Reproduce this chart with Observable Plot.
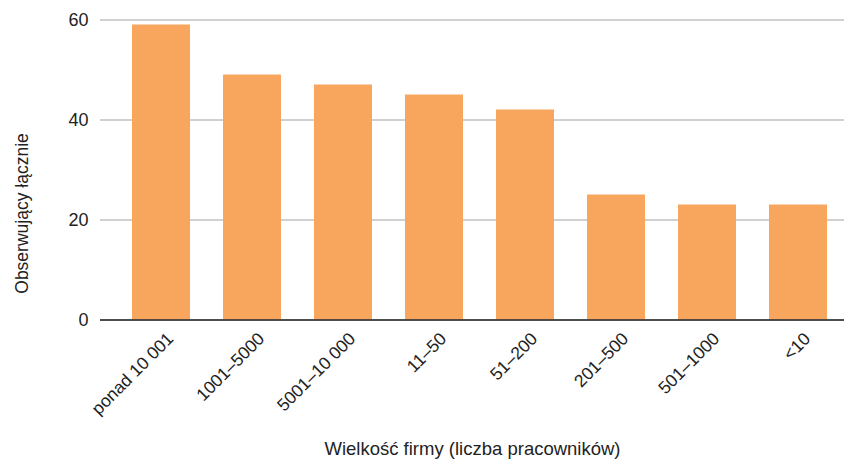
<!DOCTYPE html>
<html><head><meta charset="utf-8">
<script src="https://cdn.jsdelivr.net/npm/d3@7"></script>
<script src="https://cdn.jsdelivr.net/npm/@observablehq/plot@0.6"></script>
<style>body{margin:0;background:#fff;}</style>
</head><body><div id="chart"></div>
<script>
const categories = ["ponad 10 001","1001–5000","5001–10 000","11–50","51–200","201–500","501–1000","<10"];
const values = [59,49,47,45,42,25,23,23];
const yTicks = [0,20,40,60];
const xTitle = "Wielkość firmy (liczba pracowników)";
const yTitle = "Obserwujący łącznie";
const data = categories.map((c,i)=>({category:c, value: values[i]}));
const chart = Plot.plot({
  width:844, height:463, marginLeft:100, marginRight:0, marginTop:19.5, marginBottom:143.5,
  style:{fontFamily:"'Liberation Sans', Arial, sans-serif", background:"#fff", color:"#222"},
  x:{domain:categories, paddingInner:0.363, paddingOuter:0.265, align:0.66, label:null},
  y:{domain:[0,60], ticks:yTicks, label:null},
  marks:[
    Plot.gridY(yTicks,{stroke:"#8a8a8a", strokeOpacity:1, strokeWidth:0.8}),
    Plot.barY(data,{x:"category", y:"value", fill:"#f8a55e"}),
    Plot.ruleY([0],{stroke:"#222", strokeWidth:1.5}),
    Plot.axisY(yTicks,{tickSize:0, tickPadding:12, fontSize:18, label:null}),
    Plot.axisX({tickSize:0, tickRotate:-45, fontSize:17.5, tickPadding:12, dx:9, dy:4, label:null}),
    Plot.text([xTitle], {text:d=>d, frameAnchor:"bottom", dy:135, fontSize:18.5}),
    Plot.text([yTitle], {text:d=>d, frameAnchor:"left", textAnchor:"middle", dx:-78, dy:43.5, rotate:-90, fontSize:17.5})
  ]
});
document.getElementById("chart").append(chart);
</script>
</body></html>
